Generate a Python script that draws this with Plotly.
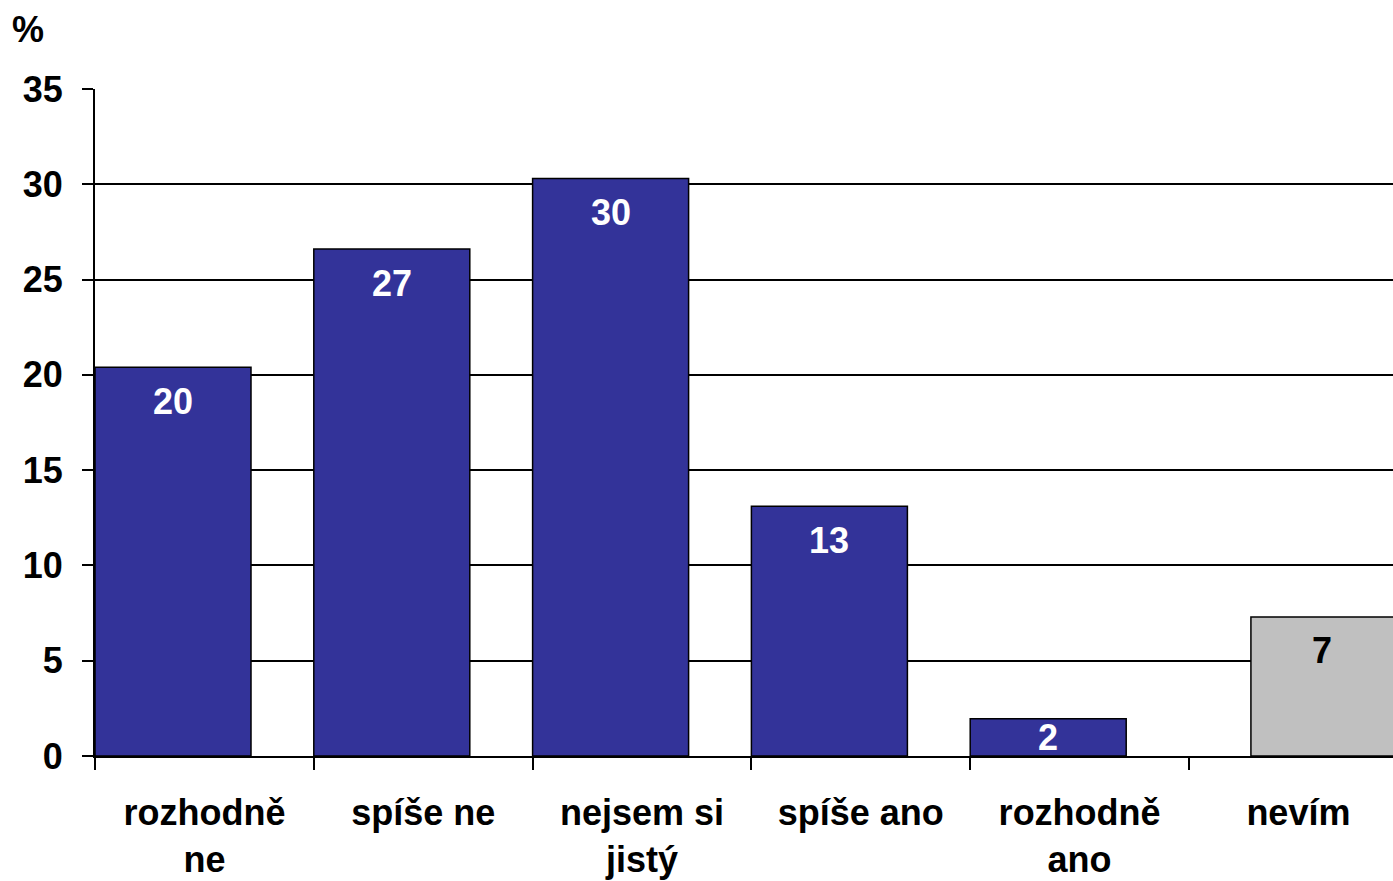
import plotly.graph_objects as go

categories = ["rozhodně<br>ne", "spíše ne", "nejsem si<br>jistý", "spíše ano", "rozhodně<br>ano", "nevím"]
blue_values = [20.4, 26.6, 30.3, 13.1, 1.95]
gray_values = [7.3]
labels_blue = ["20", "27", "30", "13", "2"]
labels_gray = ["7"]
y_ticks = [0, 5, 10, 15, 20, 25, 30, 35]

BLUE = "#333399"
GRAY = "#c0c0c0"
FONT = "Liberation Sans, Arial, sans-serif"

cat_w = 218.8
xmax = 1298 / cat_w

bar_w = 0.713
gray_off = 0.283

n_blue = len(blue_values)
blue_x = [i + bar_w / 2 for i in range(n_blue)]
gray_start = n_blue + gray_off
gray_w = bar_w
gray_x = [gray_start + gray_w / 2 for _ in gray_values]
gray_label_x = [(gray_start + xmax) / 2 for _ in gray_values]

fig = go.Figure()
fig.add_trace(go.Bar(x=blue_x, y=blue_values, width=bar_w,
                     marker=dict(color=BLUE, line=dict(color="black", width=1.5)),
                     showlegend=False, hoverinfo="skip"))
fig.add_trace(go.Bar(x=gray_x, y=gray_values, width=gray_w,
                     marker=dict(color=GRAY, line=dict(color="black", width=1.5)),
                     showlegend=False, hoverinfo="skip"))

# value labels inside bars near top
px_per_unit = 667 / 35
off_units = 34 / px_per_unit
annotations = []
for x, v, t in zip(blue_x, blue_values, labels_blue):
    annotations.append(dict(x=x, y=max(v - off_units, v / 2), text=t, showarrow=False,
                            xref="x", yref="y", yanchor="middle",
                            font=dict(family=FONT, size=36, color="white", weight="bold")))
for x, v, t in zip(gray_label_x, gray_values, labels_gray):
    annotations.append(dict(x=x, y=max(v - off_units, v / 2), text=t, showarrow=False,
                            xref="x", yref="y", yanchor="middle",
                            font=dict(family=FONT, size=36, color="black", weight="bold")))
annotations.append(dict(x=-0.0516, y=1.0885, xref="paper", yref="paper", text="%",
                        showarrow=False, xanchor="center", yanchor="middle",
                        font=dict(family=FONT, size=36, color="black", weight="bold")))

fig.update_layout(
    width=1393, height=881,
    margin=dict(l=95, r=0, t=89, b=125),
    paper_bgcolor="white", plot_bgcolor="white",
    barmode="overlay",
    annotations=annotations,
    xaxis=dict(range=[0, xmax], tickvals=[i + 0.5 for i in range(len(categories))],
               ticktext=categories, ticks="", showgrid=False, zeroline=False,
               showline=True, linecolor="black", linewidth=2,
               ticklabelstandoff=24,
               tickfont=dict(family=FONT, size=36, color="black", weight="bold"),
               minor=dict(tickvals=list(range(len(categories) + 1)), ticks="outside",
                          ticklen=12, tickwidth=1.5, tickcolor="black", showgrid=False)),
    yaxis=dict(range=[0, 35], tickvals=y_ticks, ticks="outside", ticklen=11,
               tickwidth=1.5, tickcolor="black", showgrid=True, gridcolor="black",
               gridwidth=1.5, zeroline=False, showline=True, linecolor="black",
               linewidth=2, ticklabelstandoff=12,
               tickfont=dict(family=FONT, size=36, color="black", weight="bold")),
)

fig.write_html("out.html", config={"displayModeBar": False},
               post_script="document.body.style.margin='0';document.body.style.overflow='hidden';")
